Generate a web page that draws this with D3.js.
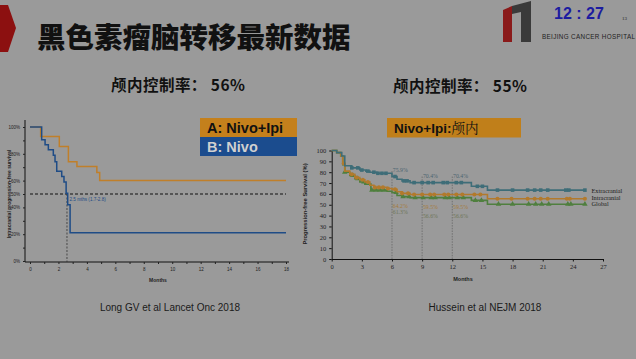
<!DOCTYPE html>
<meta charset="utf-8">
<script src="https://d3js.org/d3.v7.min.js"></script>
<style>
body { margin: 0; background: #9a9a9a; }
</style>
<div id="chart"></div>
<script>

// ---- left panel (Long GV): intracranial PFS, step curves ----
const leftTicksX = [0, 2, 4, 6, 8, 10, 12, 14, 16, 18]
const leftTicksY = [0, 20, 40, 50, 60, 80, 100]
const ipiTimes  = [0, 0.75, 2.06, 2.7, 3.3, 4.7, 4.9, 18]
const ipiValues = [100, 93, 85.5, 74, 70.5, 66, 60, 60]
const nivoTimes  = [0, 0.82, 1.06, 1.29, 1.64, 1.76, 1.88, 2.23, 2.39, 2.54, 2.65, 2.82, 18]
const nivoValues = [100, 90.5, 86.8, 83, 79, 74, 67, 63, 59, 50.6, 42, 21, 21]
const nivoMedian = 2.6

// ---- right panel (Hussein / Tawbi NEJM): PFS curves ----
const rightTicksX = [0, 3, 6, 9, 12, 15, 18, 21, 24, 27]
const rightTicksY = [0, 10, 20, 30, 40, 50, 60, 70, 80, 90, 100]
const extraTimes  = [0, 0.5, 1.0, 1.3, 2.0, 2.8, 3.4, 3.8, 4.5, 6.0, 6.5, 7.0, 7.8, 13.9, 15.5, 25.3]
const extraValues = [100, 98, 95, 86, 84, 82, 81, 80, 79, 76, 73.5, 72, 70.4, 67, 63.5, 63.5]
const intraTimes  = [0, 0.5, 0.9, 1.1, 1.3, 1.8, 2.3, 2.8, 3.3, 3.8, 4.2, 5.5, 6.0, 6.5, 7.0, 7.8, 15.5, 25.3]
const intraValues = [100, 98, 95, 88, 81, 78, 75, 73, 71, 68, 66, 65, 64.2, 62, 60.5, 59.5, 55.5, 55.5]
const globalTimes  = [0, 0.5, 0.9, 1.1, 1.3, 1.8, 2.3, 2.8, 3.3, 3.9, 5.5, 6.0, 6.5, 7.0, 7.8, 13.9, 15.5, 25.3]
const globalValues = [100, 98, 95, 87, 80, 77, 74, 71, 69, 63.5, 62.5, 61.3, 58.5, 57.5, 56.6, 54, 50.5, 50.5]
const extraCensor  = [2.0, 2.6, 3.0, 3.6, 4.2, 4.6, 5.0, 5.4, 6.3, 7.2, 7.5, 8.2, 9.0, 9.6, 10.1, 11.1, 11.5, 12.4, 12.9, 14.5, 15.0, 16.5, 18.0, 19.5, 20.2, 20.8, 21.5, 23.3, 23.6, 25.2]
const intraCensor  = [1.2, 2.0, 2.5, 3.1, 3.6, 4.3, 4.7, 5.1, 5.6, 6.3, 7.0, 7.6, 8.2, 9.0, 9.8, 10.2, 11.2, 11.6, 12.4, 13.0, 14.2, 14.8, 16.5, 17.9, 19.5, 20.2, 20.8, 21.5, 23.4, 23.7, 25.2]
const globalCensor = [1.3, 2.1, 2.6, 3.2, 4.0, 4.4, 4.8, 5.2, 6.4, 7.1, 7.7, 8.3, 9.1, 9.9, 10.3, 11.3, 11.7, 12.5, 13.1, 14.3, 14.9, 16.6, 18.0, 19.6, 20.3, 20.9, 21.6, 23.5, 23.8, 25.2]
const landmarks = [6, 9, 12]
const extraLabels  = ["75.9%", "70.4%", "70.4%"]
const intraLabels  = ["64.2%", "59.5%", "59.5%"]
const globalLabels = ["61.3%", "56.6%", "56.6%"]
const seriesNames = ["Extracranial", "Intracranial", "Global"]

const svg = d3.select("#chart").append("svg")
    .attr("width", 636)
    .attr("height", 359)

const cjk = "'Noto Sans CJK SC', sans-serif"

// header
svg.append("path")
    .attr("d", "M0,5 L8,5 L16,28 L8,52 L0,52 Z")
    .attr("fill", "#8c1010")
svg.append("text")
    .attr("x", 37).attr("y", 48)
    .attr("font-family", cjk).attr("font-weight", 900).attr("font-size", 28.5)
    .attr("fill", "#111")
    .text("黑色素瘤脑转移最新数据")

// logo + clock
svg.append("path").attr("d", "M503,10 L512,6 L512,42 L503,42 Z").attr("fill", "#8a1a1a")
svg.append("path").attr("d", "M512,6 L531,1 L531,42 L521,42 L521,12 L512,14 Z").attr("fill", "#3a3a3a")
svg.append("text")
    .attr("x", 554).attr("y", 19)
    .attr("font-family", "Liberation Sans, Arial").attr("font-weight", "bold").attr("font-size", 16)
    .attr("fill", "#1c1ca0")
    .text("12 : 27")
svg.append("text")
    .attr("x", 622).attr("y", 20)
    .attr("font-family", "Liberation Serif").attr("font-size", 5)
    .attr("fill", "#222").text("13")
svg.append("text")
    .attr("x", 542).attr("y", 39)
    .attr("font-family", "Liberation Sans, Arial").attr("font-size", 6.3)
    .attr("fill", "#222").attr("textLength", 93)
    .text("BEIJING CANCER HOSPITAL")

// subtitles
const subtitles = [{x: 111, y: 91, text: "颅内控制率：  56%"}, {x: 393, y: 92, text: "颅内控制率：  55%"}]
subtitles.forEach(d => {
    svg.append("text")
        .attr("x", d.x).attr("y", d.y)
        .attr("font-family", cjk).attr("font-weight", "bold").attr("font-size", 15.5)
        .attr("fill", "#111").attr("textLength", 134)
        .text(d.text)
})

// ---------- left panel ----------
const xL = d3.scaleLinear().domain([0, 18]).range([30, 286])
const yL = d3.scaleLinear().domain([0, 100]).range([261, 127])
const gL = svg.append("g")

gL.append("line").attr("x1", 25).attr("x2", 25).attr("y1", 120).attr("y2", 262).attr("stroke", "#111")
gL.append("line").attr("x1", 25).attr("x2", 289).attr("y1", 262).attr("y2", 262).attr("stroke", "#111")

const axL = gL.append("g").attr("transform", "translate(0,262)")
    .call(d3.axisBottom(xL).tickValues(d3.range(0, 19, 1)).tickSize(2).tickFormat(d => leftTicksX.includes(d) ? d : ""))
axL.select(".domain").remove()
axL.selectAll("line").attr("stroke", "#222")
axL.selectAll("text").attr("font-size", 4.5).attr("fill", "#222").attr("dy", "0.9em")

const ayL = gL.append("g").attr("transform", "translate(25,0)")
    .call(d3.axisLeft(yL).tickValues(d3.range(0, 101, 10)).tickSize(2).tickFormat(d => leftTicksY.includes(d) ? d + "%" : ""))
ayL.select(".domain").remove()
ayL.selectAll("line").attr("stroke", "#222")
ayL.selectAll("text").attr("font-size", 4.5).attr("fill", "#222")

gL.append("text")
    .attr("transform", "translate(11,194) rotate(-90)")
    .attr("text-anchor", "middle")
    .attr("font-family", "Liberation Sans, Arial").attr("font-size", 5).attr("font-weight", "bold")
    .attr("fill", "#222")
    .text("Intracranial progression-free survival")
gL.append("text")
    .attr("x", 158).attr("y", 282).attr("text-anchor", "middle")
    .attr("font-family", "Liberation Sans, Arial").attr("font-size", 5).attr("font-weight", "bold")
    .attr("fill", "#222").text("Months")

// median reference lines
gL.append("line")
    .attr("x1", xL(0)).attr("x2", xL(18)).attr("y1", yL(50)).attr("y2", yL(50))
    .attr("stroke", "#111").attr("stroke-width", 1.1).attr("stroke-dasharray", "3,2")
gL.append("line")
    .attr("x1", xL(nivoMedian)).attr("x2", xL(nivoMedian)).attr("y1", yL(50)).attr("y2", 262)
    .attr("stroke", "#333").attr("stroke-width", 0.8).attr("stroke-dasharray", "2,1.5")

const stepL = d3.line().curve(d3.curveStepAfter).x(d => xL(d[0])).y(d => yL(d[1]))
gL.append("path").datum(d3.zip(ipiTimes, ipiValues))
    .attr("d", stepL).attr("fill", "none").attr("stroke", "#c07f2a").attr("stroke-width", 1.5)
gL.append("path").datum(d3.zip(nivoTimes, nivoValues))
    .attr("d", stepL).attr("fill", "none").attr("stroke", "#1f4c86").attr("stroke-width", 1.5)

gL.append("text")
    .attr("x", xL(nivoMedian) + 2.5).attr("y", yL(50) + 7)
    .attr("font-family", "Liberation Sans, Arial").attr("font-size", 4.6)
    .attr("fill", "#1f4c86").text("2.5 mths (1.7-2.8)")

// legend boxes
const legendL = [
    {label: "A: Nivo+Ipi", fill: "#c4801c", color: "#111", y: 118},
    {label: "B: Nivo", fill: "#1b4c8e", color: "#d0d0d0", y: 137}
]
legendL.forEach(d => {
    gL.append("rect").attr("x", 200).attr("y", d.y).attr("width", 97).attr("height", 19).attr("fill", d.fill)
    gL.append("text").attr("x", 207).attr("y", d.y + 14.5)
        .attr("font-family", "Liberation Sans, Arial").attr("font-weight", "bold").attr("font-size", 14.5)
        .attr("fill", d.color).text(d.label)
})

// ---------- right panel ----------
const xR = d3.scaleLinear().domain([0, 27]).range([331.7, 603])
const yR = d3.scaleLinear().domain([0, 100]).range([259, 150.5])
const gR = svg.append("g")

const axR = gR.append("g").attr("transform", "translate(0,259)")
    .call(d3.axisBottom(xR).tickValues(rightTicksX).tickSize(2.5).tickSizeOuter(0))
axR.select(".domain").attr("stroke", "#111")
axR.selectAll("line").attr("stroke", "#111")
axR.selectAll("text").attr("font-family", "Liberation Serif").attr("font-size", 6.5).attr("fill", "#222")

const ayR = gR.append("g").attr("transform", "translate(331.7,0)")
    .call(d3.axisLeft(yR).tickValues(rightTicksY).tickSize(2.5).tickSizeOuter(0))
ayR.select(".domain").attr("stroke", "#111")
ayR.selectAll("line").attr("stroke", "#111")
ayR.selectAll("text").attr("font-family", "Liberation Serif").attr("font-size", 6.5).attr("fill", "#222")

gR.append("text")
    .attr("transform", "translate(307,204) rotate(-90)")
    .attr("text-anchor", "middle")
    .attr("font-family", "Liberation Sans, Arial").attr("font-size", 5.8).attr("font-weight", "bold")
    .attr("fill", "#222")
    .text("Progression-free Survival (%)")
gR.append("text")
    .attr("x", 463).attr("y", 281).attr("text-anchor", "middle")
    .attr("font-family", "Liberation Sans, Arial").attr("font-size", 5.5).attr("font-weight", "bold")
    .attr("fill", "#222").text("Months")

// landmark dashed lines
landmarks.forEach((m, i) => {
    gR.append("line")
        .attr("x1", xR(m)).attr("x2", xR(m))
        .attr("y1", 259).attr("y2", yR(i === 0 ? 81 : 76))
        .attr("stroke", "#555").attr("stroke-width", 0.6).attr("stroke-dasharray", "1.5,1.2")
})

function stepAt(times, values, t) {
    const i = d3.bisectRight(times, t) - 1
    return values[Math.max(0, i)]
}

const stepR = d3.line().curve(d3.curveStepAfter).x(d => xR(d[0])).y(d => yR(d[1]))
const series = [
    {times: extraTimes, values: extraValues, censor: extraCensor, color: "#3e6d78", sym: d3.symbolSquare},
    {times: intraTimes, values: intraValues, censor: intraCensor, color: "#b27a2c", sym: d3.symbolCircle},
    {times: globalTimes, values: globalValues, censor: globalCensor, color: "#4f7f3e", sym: d3.symbolTriangle}
]
// draw global first so others sit on top
series.slice().reverse().forEach(s => {
    gR.append("path").datum(d3.zip(s.times, s.values))
        .attr("d", stepR).attr("fill", "none").attr("stroke", s.color).attr("stroke-width", 1.6)
    gR.selectAll(null).data(s.censor).enter().append("path")
        .attr("transform", t => `translate(${xR(t)},${yR(stepAt(s.times, s.values, t))})`)
        .attr("d", d3.symbol().type(s.sym).size(13))
        .attr("fill", s.color)
})

// end-of-curve labels
const endY = [191, 197.5, 204]
seriesNames.forEach((name, i) => {
    gR.append("text")
        .attr("x", 591.5).attr("y", endY[i] + 2)
        .attr("font-family", "Liberation Serif").attr("font-size", 6.3)
        .attr("fill", "#1a1a1a").text(name)
})

// landmark percentages
landmarks.forEach((m, i) => {
    const x = xR(m) + 0.8
    gR.append("text").attr("x", x).attr("y", i === 0 ? 172 : 178)
        .attr("font-family", "Liberation Serif").attr("font-size", 5.8)
        .attr("fill", "#4a6470").text(extraLabels[i])
    gR.append("text").attr("x", x).attr("y", i === 0 ? 207.5 : 208.5)
        .attr("font-family", "Liberation Serif").attr("font-size", 5.8)
        .attr("fill", "#a67a3c").text(intraLabels[i])
    gR.append("text").attr("x", x).attr("y", i === 0 ? 214 : 218)
        .attr("font-family", "Liberation Serif").attr("font-size", 5.8)
        .attr("fill", "#6e7658").text(globalLabels[i])
})

// title box
gR.append("rect").attr("x", 387).attr("y", 118).attr("width", 134).attr("height", 19.5).attr("fill", "#c07f1a")
gR.append("text").attr("x", 394).attr("y", 133)
    .attr("font-family", "Liberation Sans, Arial").attr("font-weight", "bold").attr("font-size", 13.5)
    .attr("fill", "#111")
    .text("Nivo+Ipi:")
    .append("tspan").attr("font-family", "'Noto Serif CJK SC', " + cjk).attr("font-weight", "normal").text("颅内")

// captions
svg.append("text")
    .attr("x", 170).attr("y", 311).attr("text-anchor", "middle")
    .attr("font-family", "Liberation Sans, Arial").attr("font-size", 10)
    .attr("fill", "#1a1a1a").text("Long GV et al Lancet Onc 2018")
svg.append("text")
    .attr("x", 485).attr("y", 311).attr("text-anchor", "middle")
    .attr("font-family", "Liberation Sans, Arial").attr("font-size", 10)
    .attr("fill", "#1a1a1a").text("Hussein et al NEJM 2018")

</script>
